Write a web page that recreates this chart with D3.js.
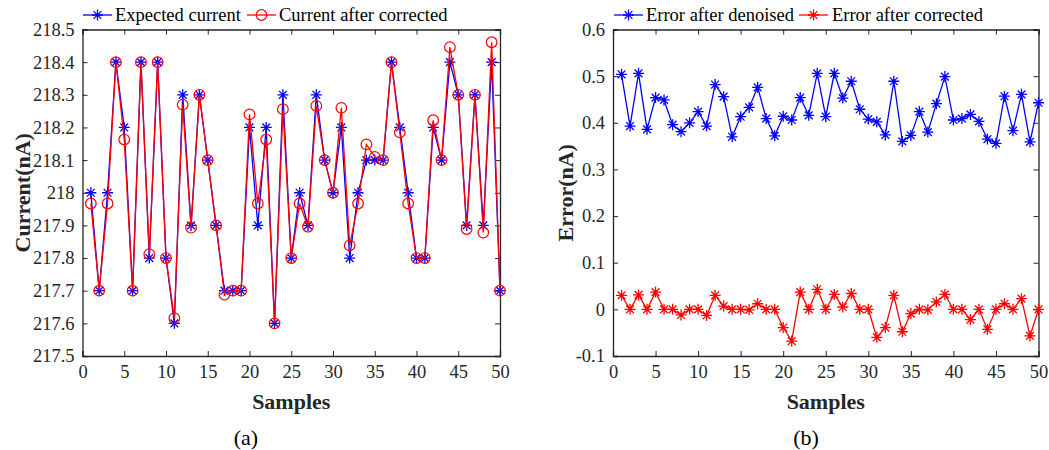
<!DOCTYPE html>
<html><head><meta charset="utf-8">
<script src="https://cdn.jsdelivr.net/npm/d3@7"></script>
<style>body{margin:0;background:#fff;} svg{display:block;}</style>
</head><body>
<svg id="c" width="1049" height="450"></svg>
<script>
const samples = d3.range(1, 51);
const expectedCurrent = [218.0,217.7,218.0,218.4,218.2,217.7,218.4,217.8,218.4,217.8,
 217.6,218.3,217.9,218.3,218.1,217.9,217.7,217.7,217.7,218.2,
 217.9,218.2,217.6,218.3,217.8,218.0,217.9,218.3,218.1,218.0,
 218.2,217.8,218.0,218.1,218.1,218.1,218.4,218.2,218.0,217.8,
 217.8,218.2,218.1,218.4,218.3,217.9,218.3,217.9,218.4,217.7];
const correctedCurrent = [217.967,217.7,217.967,218.4,218.163,217.7,218.4,217.812,218.4,217.8,
 217.616,218.27,217.893,218.3,218.1,217.9,217.688,217.7,217.7,218.24,
 217.967,218.163,217.6,218.256,217.8,217.967,217.896,218.266,218.1,218.0,
 218.26,217.839,217.967,218.148,218.11,218.1,218.4,218.185,217.967,217.8,
 217.8,218.222,218.1,218.446,218.3,217.889,218.3,217.878,218.461,217.7];
const errorDenoised = [0.504,0.393,0.506,0.386,0.454,0.449,0.396,0.381,0.400,0.424,
 0.393,0.482,0.456,0.370,0.413,0.433,0.476,0.409,0.372,0.414,
 0.406,0.454,0.416,0.506,0.413,0.506,0.453,0.489,0.429,0.408,
 0.402,0.374,0.489,0.360,0.373,0.424,0.380,0.441,0.499,0.406,
 0.409,0.418,0.403,0.365,0.356,0.457,0.383,0.461,0.359,0.443];
const errorCorrected = [0.030,0.0,0.031,0.0,0.037,0.0,0.0,-0.012,0.0,0.0,
 -0.013,0.030,0.007,0.0,0.0,-0.001,0.012,0.0,0.0,-0.039,
 -0.068,0.037,0.0,0.043,0.0,0.032,0.005,0.034,0.0,0.0,
 -0.060,-0.039,0.030,-0.048,-0.009,0.0,-0.001,0.016,0.032,0.0,
 0.0,-0.022,0.0,-0.043,0.0,0.012,0.0,0.023,-0.057,0.0];
const xTicks = [0,5,10,15,20,25,30,35,40,45,50];
const currentTicks = [217.5,217.6,217.7,217.8,217.9,218.0,218.1,218.2,218.3,218.4,218.5];
const errorTicks = [-0.1,0,0.1,0.2,0.3,0.4,0.5,0.6];

const svg = d3.select('#c');
const FONT = '"Liberation Serif","Times New Roman",serif';
const AX = '#262626';
const BLUE = '#0000ff', RED = '#ff0000';

function starPath(r){
  const d = r*Math.SQRT1_2;
  return `M${-r},0L${r},0M0,${-r}L0,${r}M${-d},${-d}L${d},${d}M${-d},${d}L${d},${-d}`;
}

function panel(opt){
  const {x0,x1,y0,y1,ydom,yticks,yfmt,ylabel,ylabelX,series,legend,caption,captionX} = opt;
  const g = svg.append('g');
  const x = d3.scaleLinear().domain([0,50]).range([x0,x1]);
  const y = d3.scaleLinear().domain(ydom).range([y1,y0]);
  const tl = 5;
  const bottom = d3.axisBottom(x).tickValues(xTicks).tickSize(-tl).tickPadding(9).tickFormat(d3.format('d'));
  const top = d3.axisTop(x).tickValues(xTicks).tickSize(-tl).tickFormat('');
  const left = d3.axisLeft(y).tickValues(yticks).tickSize(-tl).tickPadding(8).tickFormat(yfmt);
  const right = d3.axisRight(y).tickValues(yticks).tickSize(-tl).tickFormat('');
  const axes = [
    g.append('g').attr('transform',`translate(0,${y1})`).call(bottom),
    g.append('g').attr('transform',`translate(0,${y0})`).call(top),
    g.append('g').attr('transform',`translate(${x0},0)`).call(left),
    g.append('g').attr('transform',`translate(${x1},0)`).call(right)
  ];
  axes.forEach(a=>{
    a.select('.domain').attr('stroke',AX).attr('stroke-width',1.3);
    a.selectAll('.tick line').attr('stroke',AX).attr('stroke-width',1);
    a.selectAll('text').attr('font-family',FONT).attr('font-size',18.5).attr('fill',AX);
  });
  series.forEach(s=>{
    const line = d3.line().x((d,i)=>x(samples[i])).y(d=>y(d));
    g.append('path').datum(s.values).attr('d',line).attr('fill','none')
      .attr('stroke',s.color).attr('stroke-width',1.3);
    const m = g.append('g').selectAll('g').data(s.values).join('g')
      .attr('transform',(d,i)=>`translate(${x(samples[i])},${y(d)})`);
    if(s.marker==='star'){
      m.append('path').attr('d',starPath(5.5)).attr('stroke',s.color).attr('stroke-width',1.3).attr('fill','none');
    } else {
      m.append('circle').attr('r',5.3).attr('stroke',s.color).attr('stroke-width',1.2).attr('fill','none');
    }
  });
  g.append('text').attr('transform',`translate(${ylabelX},${(y0+y1)/2}) rotate(-90)`)
    .attr('text-anchor','middle').attr('dominant-baseline','central')
    .attr('font-family',FONT).attr('font-weight','bold').attr('font-size',22).attr('fill',AX).text(ylabel);
  g.append('text').attr('x',(x0+x1)/2).attr('y',409).attr('text-anchor','middle')
    .attr('font-family',FONT).attr('font-weight','bold').attr('font-size',22).attr('fill',AX).text('Samples');
  g.append('text').attr('x',captionX).attr('y',445).attr('text-anchor','middle')
    .attr('font-family',FONT).attr('font-size',22).attr('fill','#000').text(caption);
  legend.forEach(L=>{
    const ly = 15;
    g.append('line').attr('x1',L.lx0).attr('x2',L.lx1).attr('y1',ly).attr('y2',ly)
      .attr('stroke',L.color).attr('stroke-width',1.3);
    const mg = g.append('g').attr('transform',`translate(${(L.lx0+L.lx1)/2},${ly})`);
    if(L.marker==='star') mg.append('path').attr('d',starPath(5.5)).attr('stroke',L.color).attr('stroke-width',1.3).attr('fill','none');
    else mg.append('circle').attr('r',5.3).attr('stroke',L.color).attr('stroke-width',1.2).attr('fill','none');
    g.append('text').attr('x',L.tx).attr('y',ly).attr('dominant-baseline','central')
      .attr('font-family',FONT).attr('font-size',18.5).attr('fill','#000').text(L.text);
  });
}

panel({
  x0:82.5,x1:500,y0:29.5,y1:356,ydom:[217.5,218.5],yticks:currentTicks,
  yfmt:d=>d3.format('.1f')(d).replace(/\.0$/,''),
  ylabel:'Current(nA)',ylabelX:22,caption:'(a)',captionX:246,
  series:[{values:expectedCurrent,color:BLUE,marker:'star'},{values:correctedCurrent,color:RED,marker:'circle'}],
  legend:[{lx0:83,lx1:112,color:BLUE,marker:'star',tx:115,text:'Expected current'},
          {lx0:247,lx1:276,color:RED,marker:'circle',tx:279,text:'Current after corrected'}]
});
panel({
  x0:613,x1:1038.5,y0:29.5,y1:356,ydom:[-0.1,0.6],yticks:errorTicks,
  yfmt:d=>Math.abs(d)<1e-9?'0':d3.format('.1f')(d).replace('−','-'),
  ylabel:'Error(nA)',ylabelX:565,caption:'(b)',captionX:806,
  series:[{values:errorDenoised,color:BLUE,marker:'star'},{values:errorCorrected,color:RED,marker:'star'}],
  legend:[{lx0:614,lx1:643,color:BLUE,marker:'star',tx:646,text:'Error after denoised'},
          {lx0:799,lx1:828,color:RED,marker:'star',tx:832,text:'Error after corrected'}]
});
</script>
</body></html>
